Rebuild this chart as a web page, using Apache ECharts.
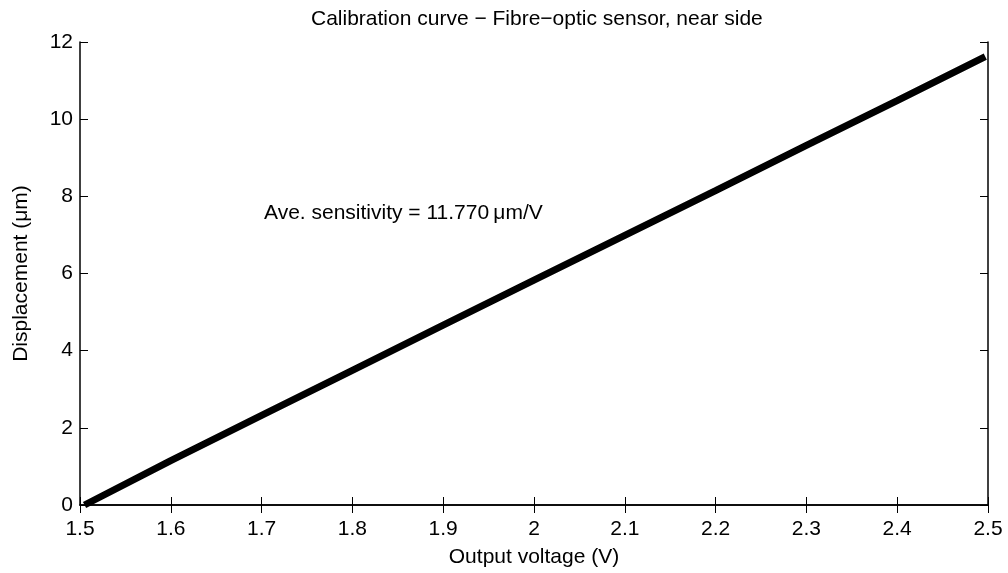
<!DOCTYPE html>
<html>
<head>
<meta charset="utf-8">
<script src="https://cdn.jsdelivr.net/npm/echarts@6/dist/echarts.min.js"></script>
<style>
  html, body { margin: 0; padding: 0; background: #fff; }
  #chart { width: 1008px; height: 573px; }
</style>
</head>
<body>
<div id="chart"></div>
<script>
// readings taken off the calibration plot
const voltage = [1.505, 1.6, 1.7, 1.8, 1.9, 2.0, 2.1, 2.2, 2.3, 2.4, 2.497]
const displacement = [0, 1.15, 2.32, 3.49, 4.66, 5.83, 6.99, 8.15, 9.32, 10.48, 11.62]
const titleText = 'Calibration curve \u2212 Fibre\u2212optic sensor, near side'
const noteText = 'Ave. sensitivity = 11.770\u2009\u03bcm/V'

let points = voltage.map((v, i) => [v, displacement[i]])
let font = 'Liberation Sans, Arial, sans-serif'
let axisLine = { show: true, lineStyle: { color: '#000', width: 1.5 } }
let tick = { show: true, inside: true, length: 8, lineStyle: { color: '#000', width: 1 } }

let myChart = echarts.init(document.getElementById('chart'))
let option = {
  animation: false,
  title: {
    text: titleText,
    left: 306,
    top: 4,
    textStyle: { fontFamily: font, fontSize: 21, fontWeight: 'normal', color: '#000' }
  },
  grid: { left: 80, right: 20, top: 42, bottom: 65 },
  xAxis: [
    {
      type: 'value',
      min: 1.5,
      max: 2.5,
      interval: 0.1,
      name: 'Output voltage (V)',
      nameLocation: 'middle',
      nameGap: 42,
      nameTextStyle: { fontFamily: font, fontSize: 21, color: '#000' },
      axisLine: axisLine,
      axisTick: tick,
      axisLabel: { fontFamily: font, fontSize: 21, color: '#000', margin: 14 },
      splitLine: { show: false }
    },
    {
      type: 'value',
      position: 'top',
      min: 1.5,
      max: 2.5,
      interval: 0.1,
      axisLine: axisLine,
      axisTick: tick,
      axisLabel: { show: false },
      splitLine: { show: false }
    }
  ],
  yAxis: [
    {
      type: 'value',
      min: 0,
      max: 12,
      interval: 2,
      name: 'Displacement (\u03bcm)',
      nameLocation: 'middle',
      nameGap: 48,
      nameTextStyle: { fontFamily: font, fontSize: 21, color: '#000' },
      axisLine: axisLine,
      axisTick: tick,
      axisLabel: { fontFamily: font, fontSize: 21, color: '#000', margin: 7 },
      splitLine: { show: false }
    },
    {
      type: 'value',
      position: 'right',
      min: 0,
      max: 12,
      interval: 2,
      axisLine: axisLine,
      axisTick: tick,
      axisLabel: { show: false },
      splitLine: { show: false }
    }
  ],
  graphic: [
    {
      type: 'text',
      left: 264,
      top: 203,
      style: { text: noteText, font: '21px ' + font, fill: '#000' }
    }
  ],
  series: [
    {
      type: 'line',
      data: points,
      showSymbol: false,
      lineStyle: { color: '#000', width: 7, cap: 'butt' }
    }
  ]
}
myChart.setOption(option, true)
</script>
</body>
</html>
